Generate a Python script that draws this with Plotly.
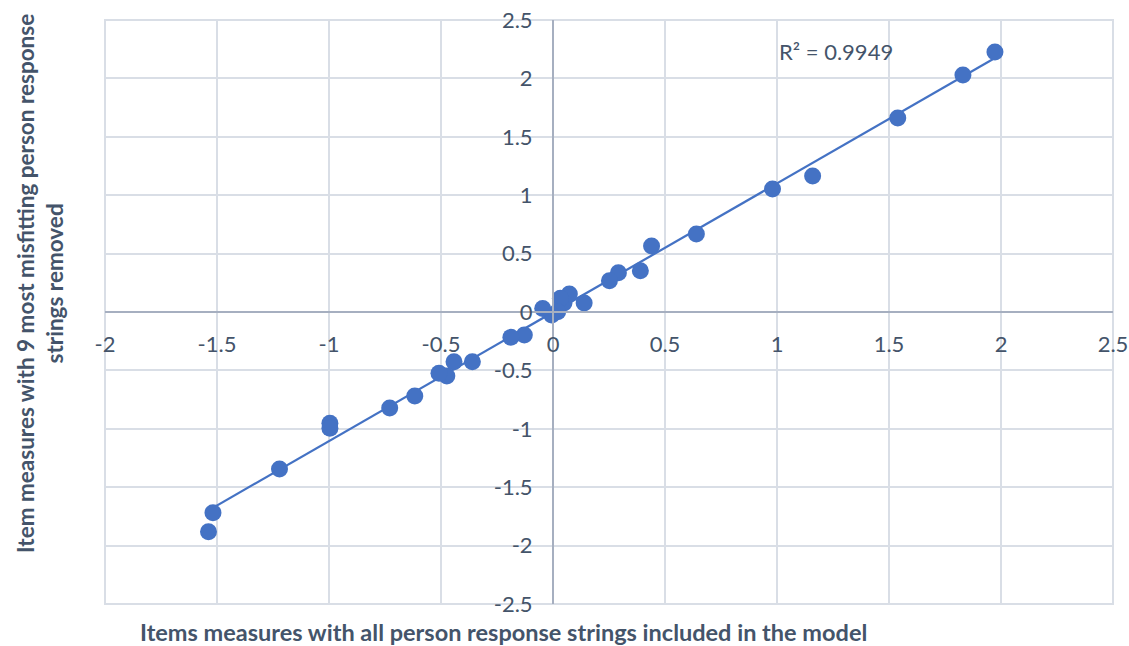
import numpy as np
import plotly.graph_objects as go

# Item measures: all persons included (x) vs 9 most misfitting removed (y)
x_all = [1.973, 1.830, 1.539, 1.159, 0.980, 0.640, 0.440, 0.390, 0.292, 0.252,
         0.139, 0.073, 0.049, 0.033, 0.021, -0.006, -0.046, -0.128, -0.188,
         -0.360, -0.442, -0.474, -0.509, -0.617, -0.729, -0.996, -0.996,
         -1.221, -1.518, -1.538]
y_removed = [2.226, 2.030, 1.661, 1.164, 1.053, 0.668, 0.565, 0.354, 0.336, 0.268,
             0.077, 0.154, 0.077, 0.118, 0.003, -0.026, 0.030, -0.197, -0.217,
             -0.425, -0.425, -0.548, -0.525, -0.719, -0.822, -0.953, -0.996,
             -1.344, -1.718, -1.881]

x_ticks = [-2, -1.5, -1, -0.5, 0, 0.5, 1, 1.5, 2, 2.5]
y_ticks = [-2.5, -2, -1.5, -1, -0.5, 0, 0.5, 1, 1.5, 2, 2.5]
r2_label = "R² = 0.9949"
x_title = "Items measures with all person response strings included in the model"
y_title = "Item measures with 9 most misfitting person response<br>strings removed"

blue = "#4472C4"
text_col = "#44546A"
grid_col = "#D9DEE6"
axis_col = "#A6AFC0"
font_family = "Lato, 'Open Sans', sans-serif"

W, H = 1129, 646
L, T, R, B = 105, 20, 16, 42
plot_w = W - L - R
plot_h = H - T - B


def px(xi):  # image x pixel -> paper fraction
    return (xi - L) / plot_w


def py(yi):  # image y pixel -> paper fraction
    return (H - B - yi) / plot_h


xa = np.array(x_all)
ya = np.array(y_removed)
slope, intercept = np.polyfit(xa, ya, 1)
x_line = np.array([xa.min(), xa.max()])
y_line = slope * x_line + intercept

fig = go.Figure()
fig.add_trace(go.Scatter(x=x_line, y=y_line, mode="lines",
                         line=dict(color=blue, width=2.2), hoverinfo="skip",
                         showlegend=False))
fig.add_trace(go.Scatter(x=x_all, y=y_removed, mode="markers",
                         marker=dict(color=blue, size=17, line=dict(width=0)),
                         showlegend=False))

x_min, x_max = x_ticks[0], x_ticks[-1]
y_min, y_max = y_ticks[0], y_ticks[-1]

fig.update_layout(
    width=W, height=H,
    margin=dict(l=L, r=R, t=T, b=B, autoexpand=False),
    paper_bgcolor="white", plot_bgcolor="white",
    font=dict(family=font_family, color=text_col, size=22),
    xaxis=dict(range=[x_min, x_max], tickvals=x_ticks,
               ticktext=[f"{v:g}" for v in x_ticks], automargin=False,
               showgrid=True, gridcolor=grid_col, gridwidth=2,
               zeroline=False, showline=True, linecolor=axis_col, linewidth=2,
               anchor="free", position=(0 - y_min) / (y_max - y_min),
               ticks="", ticklabelstandoff=13, ticklabeloverflow="allow",
               tickfont=dict(size=22, color=text_col)),
    yaxis=dict(range=[y_min, y_max], tickvals=y_ticks,
               ticktext=[f"{v:g}" for v in y_ticks], automargin=False,
               showgrid=True, gridcolor=grid_col, gridwidth=2,
               zeroline=False, showline=True, linecolor=axis_col, linewidth=2,
               anchor="free", position=(0 - x_min) / (x_max - x_min),
               ticks="", ticklabelstandoff=15, ticklabeloverflow="allow",
               tickfont=dict(size=22, color=text_col)),
)

# outer border of plot area
fig.add_shape(type="rect", xref="paper", yref="paper", x0=0, y0=0, x1=1, y1=1,
              line=dict(color=grid_col, width=2), layer="below")

fig.add_annotation(x=1.0, y=2.23, xref="x", yref="y", text=r2_label,
                   showarrow=False, xanchor="left", yanchor="middle",
                   font=dict(size=22, color=text_col, family=font_family))

fig.add_annotation(x=px(503), y=py(632), xref="paper", yref="paper",
                   text="<b>" + x_title + "</b>", showarrow=False,
                   xanchor="center", yanchor="middle",
                   font=dict(size=23.5, color=text_col, family=font_family))

fig.add_annotation(x=px(40), y=py(284), xref="paper", yref="paper",
                   text="<b>" + y_title + "</b>", textangle=-90, showarrow=False,
                   xanchor="center", yanchor="middle",
                   font=dict(size=22.5, color=text_col, family=font_family))

fig.write_html(
    "out.html",
    config={"displayModeBar": False},
    post_script="document.body.style.margin='0';document.body.style.overflow='hidden';",
)
